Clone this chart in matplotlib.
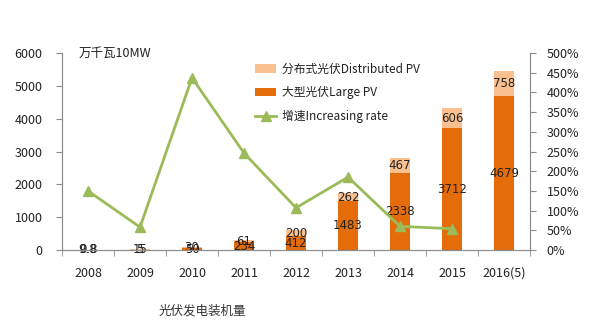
import matplotlib
matplotlib.use("Agg")
import matplotlib.pyplot as plt
import numpy as np

plt.rcParams['font.family'] = ['Noto Sans CJK SC', 'DejaVu Sans']

years = ["2008", "2009", "2010", "2011", "2012", "2013", "2014", "2015", "2016(5)"]
large_pv = [9.8, 15, 50, 234, 412, 1483, 2338, 3712, 4679]
distributed_pv = [0.8, 5, 30, 61, 200, 262, 467, 606, 758]
rate_years = ["2008", "2009", "2010", "2011", "2012", "2013", "2014", "2015"]
increasing_rate = [150, 58, 437, 246, 107, 185, 60, 54]

large_labels = ["9.8", "15", "50", "234", "412", "1483", "2338", "3712", "4679"]
dist_labels = ["0.8", "5", "30", "61", "200", "262", "467", "606", "758"]

c_large = "#E46C0A"
c_dist = "#FAC090"
c_line = "#9BBB59"
c_axis = "#8C8C8C"
c_text = "#222222"

fig = plt.figure(figsize=(5.98, 3.24), dpi=100)
ax = fig.add_axes([0.1037, 0.2284, 0.7826, 0.608])
ax2 = ax.twinx()

x = np.arange(len(years))
w = 0.38
b1 = ax.bar(x, large_pv, w, color=c_large, label="大型光伏Large PV", zorder=2)
b2 = ax.bar(x, distributed_pv, w, bottom=large_pv, color=c_dist,
            label="分布式光伏Distributed PV", zorder=2)

for i in range(len(years)):
    ax.text(x[i], large_pv[i] / 2, large_labels[i], ha="center", va="center",
            fontsize=8.5, color=c_text, family="DejaVu Sans", zorder=5)
    ax.text(x[i], large_pv[i] + distributed_pv[i] / 2, dist_labels[i], ha="center",
            va="center", fontsize=8.5, color=c_text, family="DejaVu Sans", zorder=5)

xr = [years.index(y) for y in rate_years]
ln, = ax2.plot(xr, increasing_rate, color=c_line, lw=2.0, marker="^", ms=7,
               label="增速Increasing rate", zorder=3)

ax.set_xlim(-0.5, len(years) - 0.5)
ax.set_ylim(0, 6000)
ax.set_yticks(range(0, 6001, 1000))
ax2.set_ylim(0, 500)
ax2.set_yticks(range(0, 501, 50))
ax2.set_yticklabels([f"{v}%" for v in range(0, 501, 50)])

ax.set_xticks(x)
ax.set_xticklabels(years)
ax.set_xticks(np.arange(-0.5, len(years), 1.0), minor=True)
ax.tick_params(axis="x", which="major", length=0, pad=12, labelsize=9, colors=c_text)
ax.tick_params(axis="x", which="minor", length=4, direction="out", color=c_axis)
ax.tick_params(axis="y", length=4, direction="out", color=c_axis, labelsize=9,
               labelcolor=c_text, pad=10)
ax2.tick_params(axis="y", length=4, direction="out", color=c_axis, labelsize=9,
                labelcolor=c_text, pad=8)

for a in (ax, ax2):
    a.spines["top"].set_visible(False)
    for s in ("left", "right", "bottom"):
        a.spines[s].set_color(c_axis)
ax.set_zorder(ax2.get_zorder() - 1)
ax.patch.set_visible(False)

ax.text(-0.18, 6000, "万千瓦10MW", ha="left", va="center", fontsize=9, color=c_text)

leg = ax2.legend(handles=[b2, b1, ln], loc="upper left",
                 bbox_to_anchor=(0.39, 1.005), frameon=False, fontsize=8.5,
                 handlelength=1.8, labelspacing=0.9, handletextpad=0.5)
for t in leg.get_texts():
    t.set_color(c_text)

fig.text(0.338, 0.04, "光伏发电装机量", ha="center", va="center", fontsize=9,
         color="#333333")

fig.savefig("out.png", dpi=100)
